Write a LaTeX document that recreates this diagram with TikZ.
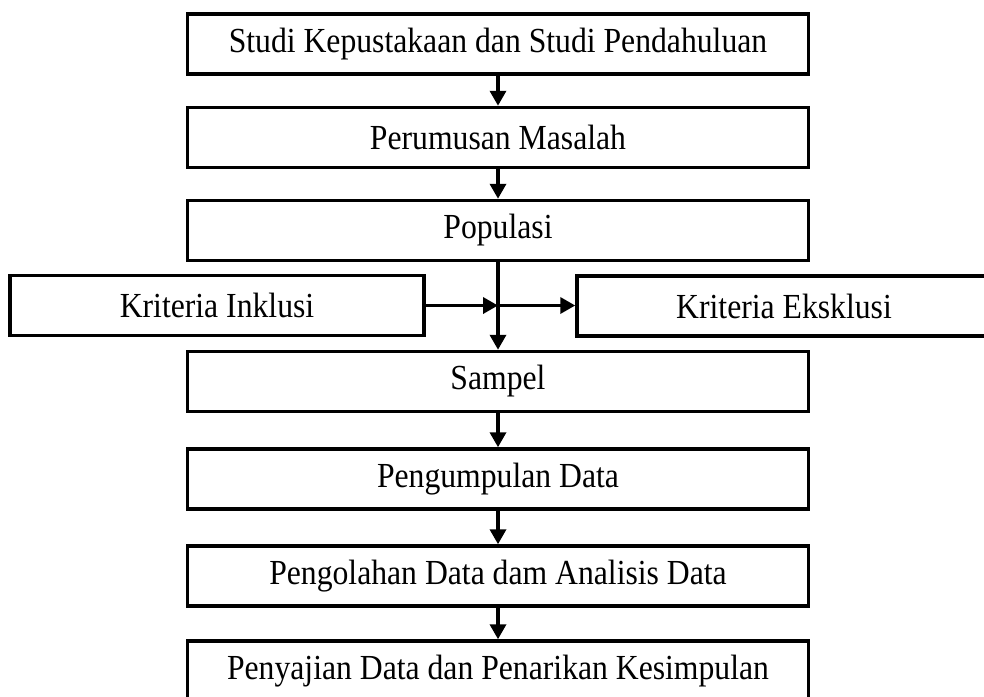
\documentclass[tikz,border=0pt]{standalone}
\usepackage{fontspec}
\setmainfont{Liberation Serif}
\usetikzlibrary{arrows.meta}
\newcommand{\vtxt}[1]{\scalebox{0.99}[1.1]{#1}}
\begin{document}
\begin{tikzpicture}[x=1pt,y=-1pt,
  box/.style={draw,line width=3.5pt,minimum height=60pt,inner sep=0pt,font=\fontsize{32}{36}\selectfont},
  wide/.style={box,minimum width=621pt},
  side/.style={box,minimum width=414pt},
  arr/.style={line width=3.5pt,-{Triangle[length=15pt,width=16pt]}}]
\useasboundingbox (0,0) rectangle (984,696);
\node[wide] (s1) at (498,44) {\vtxt{Studi Kepustakaan dan Studi Pendahuluan}};
\node[wide] (s2) at (498,137.5) {\vtxt{Perumusan Masalah}};
\node[wide] (pop) at (498,230.5) {\vtxt{Populasi}};
\node[side] (ink) at (217,305.5) {\vtxt{Kriteria Inklusi}};
\node[side] (eks) at (784,306) {\vtxt{Kriteria Eksklusi}};
\node[wide] (smp) at (498,381.5) {\vtxt{Sampel}};
\node[wide] (kum) at (498,479) {\vtxt{Pengumpulan Data}};
\node[wide] (olah) at (498,576) {\vtxt{Pengolahan Data dam Analisis Data}};
\node[wide] (saji) at (498,671) {\vtxt{Penyajian Data dan Penarikan Kesimpulan}};
\coordinate (mid) at (ink.east -| pop.south);
\draw[arr] (s1) -- (s2);
\draw[arr] (s2) -- (pop);
\draw[arr] (pop) -- (smp);
\draw[arr] (ink) -- (mid);
\draw[arr] (mid) -- (eks.west |- mid);
\draw[arr] (smp) -- (kum);
\draw[arr] (kum) -- (olah);
\draw[arr] (olah) -- (saji);
\end{tikzpicture}
\end{document}
